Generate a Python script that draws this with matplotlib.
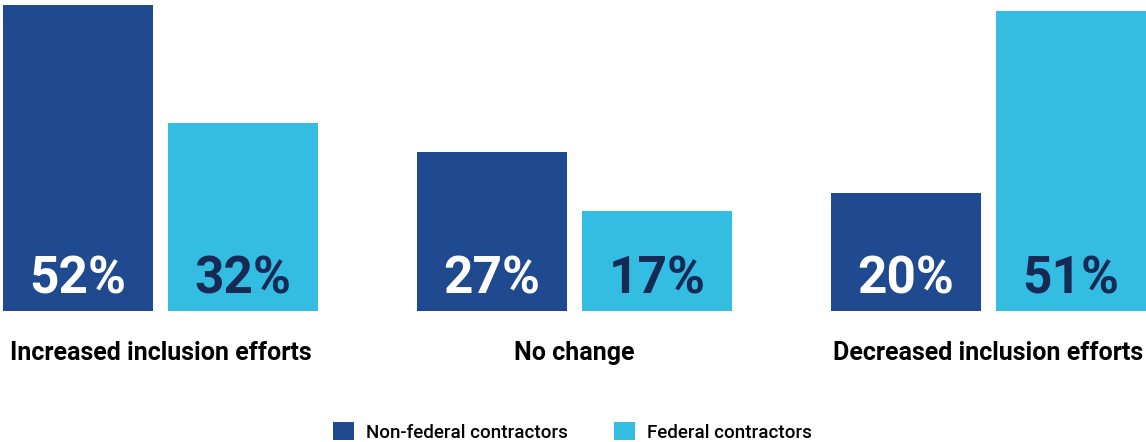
import matplotlib
matplotlib.use('Agg')
import matplotlib.pyplot as plt
import numpy as np

# survey results (percent of respondents)
categories  = ["Increased inclusion efforts", "No change", "Decreased inclusion efforts"]
non_federal = [52, 27, 20]
federal     = [32, 17, 51]
series_names = ["Non-federal contractors", "Federal contractors"]

dark_blue  = "#1f4a8f"
light_blue = "#33bde2"
navy_text  = "#162a55"

plt.rcParams['font.family'] = ['Roboto', 'DejaVu Sans']

W, H = 1146, 442
fig = plt.figure(figsize=(W/100, H/100), dpi=100)
base_px = 131
ax = fig.add_axes([0, base_px/H, 1, 1 - base_px/H])

group_px = 414.0
width  = 150/group_px
offset = 82.5/group_px
x = np.arange(len(categories))

b1 = ax.bar(x - offset, non_federal, width, color=dark_blue, label=series_names[0])
b2 = ax.bar(x + offset, federal, width, color=light_blue, label=series_names[1])

ax.set_xlim(-160.5/group_px, (W - 160.5)/group_px)
ax.set_ylim(0, 311/5.885)
ax.axis('off')

for bars, col in ((b1, 'white'), (b2, navy_text)):
  for rect in bars:
    v = rect.get_height()
    ax.annotate(f"{v:.0f}%", (rect.get_x() + rect.get_width()/2, 0),
                xytext=(0, 17*0.72), textcoords='offset points',
                ha='center', va='baseline', fontsize=37, fontweight='bold', color=col)

for xi, cat in zip(x, categories):
  ax.annotate(cat, (xi, 0), xytext=(0, -42*0.72), textcoords='offset points',
              ha='center', va='center', fontsize=18, fontweight='bold', color='black')

fig.legend(handles=[b1, b2], loc='center', bbox_to_anchor=(572.5/W, 10/H),
           ncol=2, frameon=False, prop={'size': 13.5, 'weight': 'medium'},
           handlelength=1.1, handleheight=1.1,
           handletextpad=0.65, columnspacing=2.5, borderpad=0, borderaxespad=0)

fig.savefig("out.png", dpi=100)
